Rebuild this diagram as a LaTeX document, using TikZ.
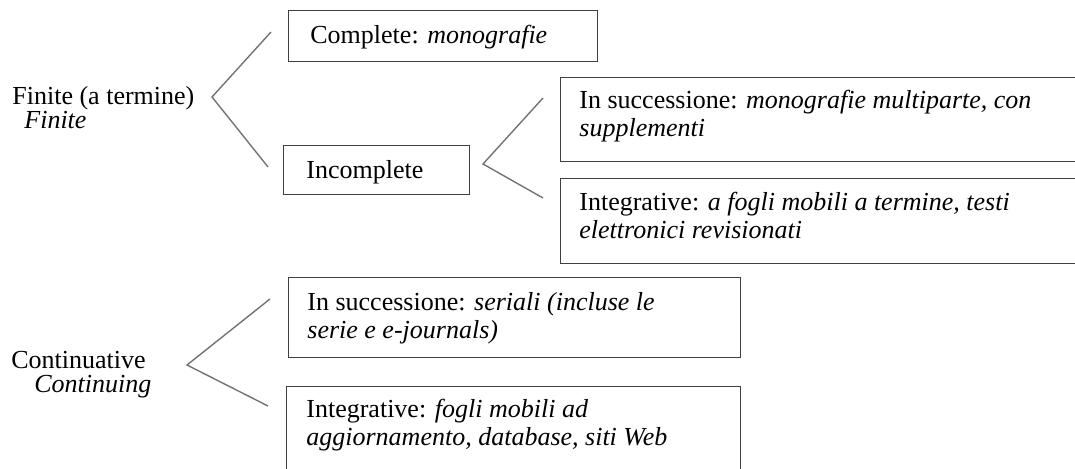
\documentclass[tikz,border=0pt]{standalone}
\usepackage{fontspec}
\setmainfont{Liberation Serif}
\usetikzlibrary{positioning}

\tikzset{
  frame/.style={draw=black!75, line width=0.7pt, inner sep=0pt, anchor=north west},
  txt/.style={inner sep=0pt, anchor=north west, align=left, font=\fontsize{13}{14}\selectfont},
  side/.style={txt, font=\fontsize{13}{12}\selectfont},
  fork/.style={draw=black!55, line width=0.7pt},
}

\begin{document}
\begin{tikzpicture}[x=0.5pt, y=-0.5pt]
    \useasboundingbox (0,0) rectangle (1075,469);
    \clip (0,0) rectangle (1075,469);

    % Boxes
    \node[frame, minimum width=154.5pt, minimum height=25.5pt] (complete) at (288,10) {};
    \node[frame, minimum width=93pt, minimum height=24.5pt] (incomplete) at (283,145) {};
    \node[frame, minimum width=265pt, minimum height=42pt] (succfin) at (560,77) {};
    \node[frame, minimum width=265pt, minimum height=42.5pt] (integfin) at (560,178) {};
    \node[frame, minimum width=226pt, minimum height=40pt] (succcont) at (288,277) {};
    \node[frame, minimum width=227pt, minimum height=52pt] (integcont) at (286,386) {};

    % Texts in the boxes
    \node[txt] (completetxt) at (310,25) {Complete: \textit{monografie}};
    \node[txt] (incompletetxt) at (306,160) {Incomplete};
    \node[txt] (succfintxt) at (579,90) {In successione: \textit{monografie multiparte, con}\\\textit{supplementi}};
    \node[txt] (integfintxt) at (579,192) {Integrative: \textit{a fogli mobili a termine, testi}\\\textit{elettronici revisionati}};
    \node[txt] (succconttxt) at (307,292) {In successione: \textit{seriali (incluse le}\\\textit{serie e e-journals)}};
    \node[txt] (integconttxt) at (306,399) {Integrative: \textit{fogli mobili ad}\\\textit{aggiornamento, database, siti Web}};

    % Left labels
    \node[side] (finite) at (12,86) {Finite (a termine)\\\hspace*{6pt}\textit{Finite}};
    \node[side] (cont) at (11,351) {Continuative\\\hspace*{11.5pt}\textit{Continuing}};

    % Forks
    \coordinate (finitetip) at (212,97);
    \coordinate (finiteup) at (271,32);
    \coordinate (finitedown) at (268,167);
    \coordinate (incompletetip) at (483,164);
    \coordinate (incompleteup) at (543,98);
    \coordinate (incompletedown) at (543,198);
    \coordinate (conttip) at (187,365);
    \coordinate (contup) at (270,299);
    \coordinate (contdown) at (268,406);

    \draw[fork] (finiteup) -- (finitetip) -- (finitedown);
    \draw[fork] (incompleteup) -- (incompletetip) -- (incompletedown);
    \draw[fork] (contup) -- (conttip) -- (contdown);
\end{tikzpicture}
\end{document}
